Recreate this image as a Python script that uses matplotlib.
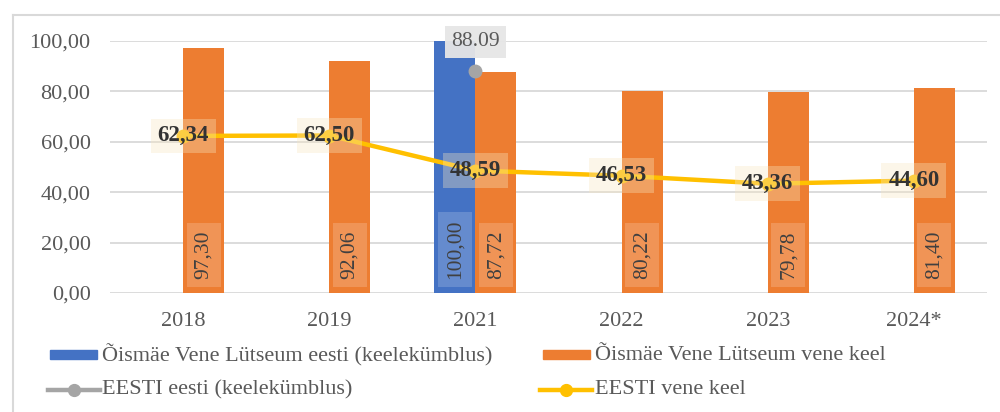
import numpy as np
import matplotlib
matplotlib.use("Agg")
import matplotlib.pyplot as plt
from matplotlib.patches import Rectangle
from matplotlib.lines import Line2D

plt.rcParams['font.family'] = ['Liberation Serif', 'DejaVu Serif']

categories = ["2018", "2019", "2021", "2022", "2023", "2024*"]
school_est = [np.nan, np.nan, 100.00, np.nan, np.nan, np.nan]
school_rus = [97.30, 92.06, 87.72, 80.22, 79.78, 81.40]
estonia_est = [np.nan, np.nan, 88.09, np.nan, np.nan, np.nan]
estonia_rus = [62.34, 62.50, 48.59, 46.53, 43.36, 44.60]
yticks = [0, 20, 40, 60, 80, 100]
series_names = ["Õismäe Vene Lütseum eesti (keelekümblus)",
                "Õismäe Vene Lütseum vene keel",
                "EESTI eesti (keelekümblus)",
                "EESTI vene keel"]

BLUE = "#4472C4"
ORANGE = "#ED7D31"
GRAY = "#A5A5A5"
YELLOW = "#FFC000"
TXT = "#595959"

W, H = 1000, 412
fig = plt.figure(figsize=(10, 4.12), dpi=100)
ax = fig.add_axes([110 / W, 1 - 293 / H, 877 / W, 252 / H])

x = np.arange(len(categories))
bw = 0.28
ax.bar(x - bw / 2, school_est, bw, color=BLUE, zorder=2)
ax.bar(x + bw / 2, school_rus, bw, color=ORANGE, zorder=2)
ax.plot(x, estonia_rus, color=YELLOW, lw=3.2, marker='o', ms=9, zorder=3)
ax.plot(x, estonia_est, color=GRAY, lw=3.2, marker='o', ms=9, zorder=3)

fmt = lambda v: f"{v:.2f}".replace('.', ',')

# bar labels
bar_box = dict(boxstyle='square,pad=0.35', fc='white', ec='none', alpha=0.18)
for xi, v in zip(x, school_est):
    if not np.isnan(v):
        ax.annotate(fmt(v), (xi - bw / 2, 0), xytext=(0, 10), textcoords='offset points',
                    rotation=90, ha='center', va='bottom', fontsize=15.5, color='#404040',
                    bbox=bar_box, zorder=4)
for xi, v in zip(x, school_rus):
    ax.annotate(fmt(v), (xi + bw / 2, 0), xytext=(0, 10), textcoords='offset points',
                rotation=90, ha='center', va='bottom', fontsize=15.5, color='#404040',
                bbox=bar_box, zorder=4)
# line labels
for xi, v in zip(x, estonia_rus):
    ax.annotate(fmt(v), (xi, v), ha='center', va='center', fontsize=16.5, fontweight='bold',
                color='#333333',
                bbox=dict(boxstyle='square,pad=0.3', fc='#F8E6C0', ec='none', alpha=0.35),
                zorder=5)
for xi, v in zip(x, estonia_est):
    if not np.isnan(v):
        ax.annotate(f"{v:.2f}", (xi, v), xytext=(0, 21), textcoords='offset points',
                    ha='center', va='center', fontsize=15.5, color=TXT,
                    bbox=dict(boxstyle='square,pad=0.3', fc='#E6E6E6', ec='none', alpha=0.95),
                    zorder=5)

ax.set_xlim(-0.5, len(categories) - 0.5)
ax.set_ylim(0, 100)
ax.set_yticks(yticks)
ax.set_yticklabels([fmt(v) for v in yticks])
ax.set_xticks(x)
ax.set_xticklabels(categories)
ax.tick_params(axis='both', length=0, labelsize=16, labelcolor=TXT)
ax.tick_params(axis='y', pad=14)
ax.tick_params(axis='x', pad=14)
for s in ax.spines.values():
    s.set_visible(False)
ax.yaxis.grid(True, color='#D9D9D9', lw=1.3, zorder=0)
ax.set_axisbelow(True)
for t in ax.texts:
    t.set_clip_on(False)

# legend (manual)
def fx(px):
    return px / W
def fy(py):
    return 1 - py / H

fig.add_artist(Rectangle((fx(50), fy(359)), 47 / W, 9 / H, color=BLUE, transform=fig.transFigure))
fig.add_artist(Rectangle((fx(543), fy(359)), 47 / W, 9 / H, color=ORANGE, transform=fig.transFigure))
fig.add_artist(Line2D([fx(48), fx(74), fx(100)], [fy(390)] * 3, color=GRAY, lw=3.2,
                      marker='o', ms=8.5, markevery=[1], transform=fig.transFigure))
fig.add_artist(Line2D([fx(540), fx(566), fx(592)], [fy(390)] * 3, color=YELLOW, lw=3.2,
                      marker='o', ms=8.5, markevery=[1], transform=fig.transFigure))
leg_pos = [(102, 355), (595, 355), (102, 390), (595, 390)]
for name, (px, py) in zip(series_names, leg_pos):
    fig.text(fx(px), fy(py), name, ha='left', va='center', fontsize=16, color=TXT)

# outer border
fig.add_artist(Line2D([fx(13), fx(1000)], [fy(15), fy(15)], color='#D9D9D9', lw=1.5,
                      transform=fig.transFigure))
fig.add_artist(Line2D([fx(13), fx(13)], [fy(15), fy(412)], color='#D9D9D9', lw=1.5,
                      transform=fig.transFigure))

fig.savefig("out.png", dpi=100)
